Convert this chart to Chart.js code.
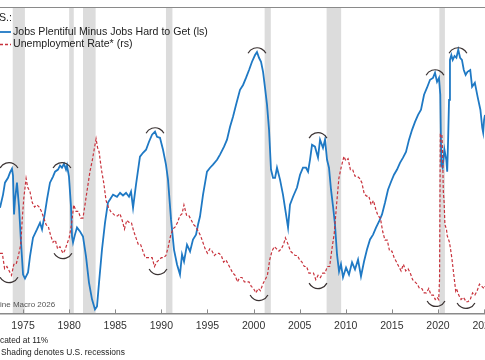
<!DOCTYPE html>
<html>
<head>
<meta charset="utf-8">
<script src="https://cdn.jsdelivr.net/npm/chart.js@4.4.1/dist/chart.umd.min.js"></script>
<style>
  html, body { margin: 0; padding: 0; background: #fff; overflow: hidden; }
  #wrap { position: relative; width: 560px; height: 360px; }
</style>
</head>
<body>
<div id="wrap"><canvas id="chart" width="560" height="360"></canvas></div>
<script>
// Conference Board labour differential (left scale)
var jobsYears = [
  1972.50, 1972.83, 1973.04, 1973.37, 1973.58, 1973.80, 1973.91, 1974.02, 1974.13, 1974.34,
  1974.56, 1974.78, 1975.00, 1975.21, 1975.54, 1975.75, 1976.08, 1976.51, 1976.84, 1977.06,
  1977.38, 1977.60, 1977.92, 1978.25, 1978.47, 1978.79, 1979.01, 1979.22, 1979.44, 1979.66,
  1979.77, 1979.98, 1980.20, 1980.31, 1980.42, 1980.63, 1980.85, 1981.18, 1981.50, 1981.83,
  1982.15, 1982.48, 1982.80, 1983.02, 1983.24, 1983.56, 1983.89, 1984.21, 1984.43, 1984.76,
  1985.19, 1985.52, 1985.84, 1986.17, 1986.49, 1986.71, 1986.93, 1987.25, 1987.68, 1988.01,
  1988.34, 1988.66, 1988.99, 1989.31, 1989.53, 1989.85, 1990.18, 1990.50, 1990.72, 1991.05,
  1991.37, 1991.70, 1992.02, 1992.24, 1992.46, 1992.78, 1993.11, 1993.43, 1993.76, 1993.98,
  1994.19, 1994.52, 1994.95, 1995.28, 1995.60, 1996.04, 1996.36, 1996.80, 1997.12, 1997.45,
  1997.77, 1998.10, 1998.53, 1998.86, 1999.18, 1999.51, 1999.83, 2000.16, 2000.37, 2000.59,
  2000.81, 2001.03, 2001.24, 2001.46, 2001.68, 2001.89, 2002.11, 2002.33, 2002.54, 2002.87,
  2003.19, 2003.52, 2003.74, 2003.95, 2004.28, 2004.71, 2005.04, 2005.36, 2005.69, 2005.91,
  2006.12, 2006.34, 2006.66, 2006.99, 2007.21, 2007.53, 2007.75, 2007.97, 2008.18, 2008.40,
  2008.62, 2008.83, 2009.05, 2009.27, 2009.48, 2009.70, 2010.03, 2010.35, 2010.68, 2011.00,
  2011.33, 2011.65, 2011.98, 2012.30, 2012.63, 2012.96, 2013.28, 2013.61, 2013.93, 2014.26,
  2014.58, 2014.91, 2015.23, 2015.56, 2015.88, 2016.21, 2016.53, 2016.86, 2017.19, 2017.51,
  2017.84, 2018.16, 2018.49, 2018.81, 2019.14, 2019.46, 2019.68, 2019.90, 2020.11, 2020.25,
  2020.36, 2020.50, 2020.70, 2020.90, 2021.00, 2021.10, 2021.20, 2021.30, 2021.45, 2021.60,
  2021.80, 2022.00, 2022.20, 2022.40, 2022.60, 2022.80, 2023.00, 2023.20, 2023.50, 2023.70,
  2024.00, 2024.30, 2024.60, 2024.80, 2024.90, 2025.00, 2025.10
];
var jobsValues = [
  -15.4, -11.1, -7.2, -5.6, -3.9, -2.6, -4.9, -17.6, -12.7, -7.2,
  -15.0, -26.8, -37.3, -38.6, -36.6, -31.4, -25.2, -22.5, -20.3, -22.5,
  -17.0, -12.7, -7.2, -5.2, -3.6, -2.9, -1.6, -2.3, -1.0, -2.9,
  -1.6, -5.2, -15.0, -24.8, -26.8, -24.2, -21.9, -23.2, -24.8, -31.4,
  -39.9, -45.4, -48.7, -47.7, -39.9, -29.1, -20.3, -13.7, -12.7, -11.1,
  -11.8, -10.5, -11.4, -10.5, -11.8, -10.1, -15.4, -7.8, 1.3, 2.6,
  3.6, 6.2, 8.5, 9.5, 7.8, 7.5, 3.6, -1.3, -6.2, -19.3,
  -29.1, -34.0, -37.3, -30.7, -33.0, -27.5, -29.7, -25.8, -24.2, -20.9,
  -18.3, -11.1, -3.6, -2.3, -1.3, 0.3, 2.0, 4.6, 6.9, 11.1,
  14.4, 18.3, 23.2, 24.8, 27.1, 29.7, 32.4, 34.6, 35.6, 33.7,
  32.4, 29.1, 23.9, 18.3, 10.1, -2.9, -5.6, -5.6, -2.3, -6.2,
  -11.1, -17.6, -21.9, -14.4, -11.8, -8.8, -4.6, -2.3, -2.3, -3.6,
  0.3, 5.2, 4.6, 1.0, 6.9, 4.2, 6.9, 0.3, -2.3, -9.5,
  -15.0, -20.9, -30.7, -36.3, -33.9, -38.2, -35.0, -37.3, -33.3, -35.6,
  -32.4, -37.9, -33.0, -29.1, -25.8, -24.2, -21.9, -19.9, -17.6, -13.7,
  -9.5, -6.9, -4.6, -2.9, -0.7, 1.0, 2.9, 6.9, 10.1, 12.7,
  15.0, 16.7, 21.6, 23.9, 26.5, 27.1, 28.8, 25.8, 27.1, 21.6,
  -1.3, -2.3, 3.6, 0.3, -3.6, 6.9, 19.9, 33.0, 34.6, 33.0,
  34.3, 33.7, 36.3, 33.7, 33.0, 29.7, 28.1, 29.1, 29.7, 24.2,
  25.5, 20.9, 16.7, 10.8, 9.2, 13.4, 15.0
];

// Unemployment rate, %, truncated at 11 (right scale)
var unempYears = [
  1972.50, 1972.75, 1973.00, 1973.25, 1973.50, 1973.75, 1974.00, 1974.25, 1974.50, 1974.75,
  1974.92, 1975.08, 1975.33, 1975.50, 1975.75, 1976.00, 1976.25, 1976.50, 1976.75, 1977.00,
  1977.25, 1977.50, 1977.75, 1978.00, 1978.25, 1978.50, 1978.75, 1979.00, 1979.33, 1979.50,
  1979.75, 1980.00, 1980.25, 1980.50, 1980.75, 1981.00, 1981.25, 1981.50, 1981.75, 1982.00,
  1982.25, 1982.50, 1982.75, 1982.92, 1983.08, 1983.25, 1983.50, 1983.75, 1984.00, 1984.25,
  1984.50, 1984.75, 1985.00, 1985.25, 1985.50, 1985.75, 1986.00, 1986.25, 1986.50, 1986.75,
  1987.00, 1987.25, 1987.50, 1987.75, 1988.00, 1988.25, 1988.50, 1988.75, 1989.00, 1989.25,
  1989.50, 1989.75, 1990.00, 1990.25, 1990.50, 1990.75, 1991.00, 1991.25, 1991.50, 1991.75,
  1992.00, 1992.25, 1992.45, 1992.75, 1993.00, 1993.25, 1993.50, 1993.75, 1994.00, 1994.25,
  1994.50, 1994.75, 1995.00, 1995.25, 1995.50, 1995.75, 1996.00, 1996.25, 1996.50, 1996.75,
  1997.00, 1997.25, 1997.50, 1997.75, 1998.00, 1998.25, 1998.50, 1998.75, 1999.00, 1999.25,
  1999.50, 1999.75, 2000.00, 2000.25, 2000.50, 2000.75, 2001.00, 2001.25, 2001.50, 2001.75,
  2002.00, 2002.25, 2002.50, 2002.75, 2003.00, 2003.25, 2003.45, 2003.75, 2004.00, 2004.25,
  2004.50, 2004.75, 2005.00, 2005.25, 2005.50, 2005.75, 2006.00, 2006.25, 2006.50, 2006.75,
  2007.00, 2007.25, 2007.50, 2007.75, 2008.00, 2008.25, 2008.50, 2008.75, 2009.00, 2009.25,
  2009.50, 2009.80, 2010.00, 2010.25, 2010.50, 2010.75, 2011.00, 2011.25, 2011.50, 2011.75,
  2012.00, 2012.25, 2012.50, 2012.75, 2013.00, 2013.25, 2013.50, 2013.75, 2014.00, 2014.25,
  2014.50, 2014.75, 2015.00, 2015.25, 2015.50, 2015.75, 2016.00, 2016.25, 2016.50, 2016.75,
  2017.00, 2017.25, 2017.50, 2017.75, 2018.00, 2018.25, 2018.50, 2018.75, 2019.00, 2019.25,
  2019.50, 2019.70, 2019.92, 2020.08, 2020.17, 2020.25, 2020.33, 2020.42, 2020.50, 2020.58,
  2020.67, 2020.75, 2020.92, 2021.00, 2021.25, 2021.50, 2021.75, 2021.92, 2022.00, 2022.25,
  2022.50, 2022.75, 2022.92, 2023.00, 2023.25, 2023.50, 2023.75, 2024.00, 2024.25, 2024.50,
  2024.75, 2025.00, 2025.10
];
var unempValues = [
  5.6, 5.6, 4.9, 5.0, 4.8, 4.6, 5.1, 5.1, 5.5, 6.0,
  7.2, 8.1, 9.0, 8.6, 8.4, 7.9, 7.7, 7.8, 7.7, 7.5,
  7.2, 6.9, 6.8, 6.4, 6.1, 6.2, 5.8, 5.9, 5.6, 5.7,
  6.0, 6.3, 6.9, 7.8, 7.5, 7.5, 7.2, 7.2, 7.9, 8.6,
  9.3, 9.8, 10.4, 10.8, 10.4, 10.2, 9.4, 8.8, 8.0, 7.7,
  7.5, 7.4, 7.3, 7.3, 7.4, 7.1, 6.7, 7.1, 7.0, 7.0,
  6.6, 6.3, 6.0, 6.0, 5.7, 5.4, 5.4, 5.4, 5.4, 5.0,
  5.2, 5.3, 5.4, 5.4, 5.5, 5.9, 6.4, 6.7, 6.8, 7.0,
  7.3, 7.4, 7.8, 7.3, 7.3, 7.1, 6.9, 6.8, 6.6, 6.4,
  6.1, 5.8, 5.6, 5.8, 5.7, 5.5, 5.6, 5.6, 5.5, 5.2,
  5.3, 5.1, 4.9, 4.7, 4.6, 4.3, 4.5, 4.5, 4.3, 4.3,
  4.3, 4.1, 4.0, 3.8, 4.0, 3.9, 4.2, 4.4, 4.6, 5.3,
  5.7, 5.9, 5.8, 5.7, 5.8, 6.0, 6.3, 6.0, 5.7, 5.6,
  5.5, 5.5, 5.3, 5.2, 5.0, 5.0, 4.7, 4.7, 4.7, 4.4,
  4.6, 4.5, 4.7, 4.7, 5.0, 5.0, 5.8, 6.5, 7.8, 9.0,
  9.5, 10.0, 9.8, 9.9, 9.4, 9.4, 9.1, 9.1, 9.0, 8.8,
  8.3, 8.2, 8.2, 7.8, 8.0, 7.6, 7.3, 7.2, 6.6, 6.2,
  6.2, 5.7, 5.7, 5.4, 5.2, 5.0, 4.8, 5.1, 4.8, 4.9,
  4.7, 4.4, 4.3, 4.2, 4.0, 4.0, 3.8, 3.8, 4.0, 3.7,
  3.7, 3.5, 3.6, 3.5, 4.4, 11.0, 11.0, 11.0, 10.2, 8.4,
  7.9, 6.9, 6.7, 6.4, 6.1, 5.4, 4.5, 3.9, 4.0, 3.7,
  3.5, 3.6, 3.5, 3.4, 3.4, 3.5, 3.8, 3.7, 3.9, 4.2,
  4.1, 4.0, 4.1
];

var tickYears = [1975, 1980, 1985, 1990, 1995, 2000, 2005, 2010, 2015, 2020, 2025];

var recessionStarts = [1973.88, 1980.00, 1981.50, 1990.50, 2001.20, 2007.92, 2020.15];
var recessionEnds   = [1975.20, 1980.50, 1982.87, 1991.20, 2001.87, 2009.50, 2020.75];

// arcs marking cycle peaks (blue) and troughs (red)
var peakArcYears   = [1973.48, 1979.22, 1989.31, 2000.37, 2006.99, 2019.68, 2022.17];
var peakArcValues  = [-3.9, -3.9, 7.5, 33.7, 5.9, 26.5, 33.7];
var troughArcYears  = [1973.48, 1979.33, 1989.64, 2000.59, 2006.99, 2019.79, 2023.04];
var troughArcValues = [4.72, 5.81, 5.09, 3.91, 4.45, 3.64, 3.55];

var BLUE = '#1f79c4';
var RED = '#c8323c';
var FONT = "'Liberation Sans', Arial, sans-serif";

function toPoints(xs, ys) {
    return xs.map(function (x, i) { return { x: x, y: ys[i] }; });
}

var decorPlugin = {
    id: 'decor',
    beforeDraw: function (chart) {
        var ctx = chart.ctx, area = chart.chartArea, xs = chart.scales.x;
        ctx.save();
        ctx.fillStyle = '#dcdcdc';
        recessionStarts.forEach(function (s, i) {
            var x0 = xs.getPixelForValue(s);
            var x1 = xs.getPixelForValue(recessionEnds[i]);
            ctx.fillRect(x0, area.top, x1 - x0, area.bottom - area.top);
        });
        ctx.strokeStyle = '#8a8a8a';
        ctx.lineWidth = 1;
        ctx.beginPath();
        ctx.moveTo(0, area.top - 0.5);
        ctx.lineTo(chart.width, area.top - 0.5);
        ctx.stroke();
        ctx.restore();
    },
    afterDatasetsDraw: function (chart) {
        var ctx = chart.ctx, xs = chart.scales.x, yl = chart.scales.y, yr = chart.scales.y1;
        var r = 10, half = 1.1;
        ctx.save();
        ctx.strokeStyle = '#3b3333';
        ctx.lineWidth = 1.2;
        peakArcYears.forEach(function (yr0, i) {
            ctx.beginPath();
            ctx.arc(xs.getPixelForValue(yr0), yl.getPixelForValue(peakArcValues[i]), r, -Math.PI / 2 - half, -Math.PI / 2 + half);
            ctx.stroke();
        });
        troughArcYears.forEach(function (yr0, i) {
            ctx.beginPath();
            ctx.arc(xs.getPixelForValue(yr0), yr.getPixelForValue(troughArcValues[i]), r, Math.PI / 2 - half, Math.PI / 2 + half);
            ctx.stroke();
        });
        ctx.restore();
    },
    afterDraw: function (chart) {
        var ctx = chart.ctx, area = chart.chartArea, xs = chart.scales.x;
        ctx.save();
        // inner tick marks on the date axis
        ctx.strokeStyle = '#8a8a8a';
        ctx.lineWidth = 1;
        tickYears.forEach(function (t) {
            var x = Math.round(xs.getPixelForValue(t)) + 0.5;
            ctx.beginPath();
            ctx.moveTo(x, area.bottom);
            ctx.lineTo(x, area.bottom - 4);
            ctx.stroke();
        });
        // legend
        var ds = chart.data.datasets;
        ctx.textBaseline = 'middle';
        ctx.textAlign = 'left';
        ctx.fillStyle = '#222';
        ctx.font = '10.6px ' + FONT;
        ctx.fillText('S.:', -1, 18);
        ctx.lineWidth = 1.8;
        ctx.strokeStyle = BLUE;
        ctx.beginPath(); ctx.moveTo(0, 32); ctx.lineTo(11, 32); ctx.stroke();
        ctx.fillText(ds[0].label, 13, 32);
        ctx.lineWidth = 1.3;
        ctx.strokeStyle = RED;
        ctx.setLineDash([3, 2]);
        ctx.beginPath(); ctx.moveTo(0, 44.5); ctx.lineTo(11, 44.5); ctx.stroke();
        ctx.setLineDash([]);
        ctx.fillText(ds[1].label, 13, 44.5);
        // source and notes
        ctx.fillStyle = '#555';
        ctx.font = '8px ' + FONT;
        ctx.fillText('ine Macro 2026', 0, 305);
        ctx.fillStyle = '#222';
        ctx.font = '8.4px ' + FONT;
        ctx.fillText('cated at 11%', 0, 341);
        ctx.fillText('Shading denotes U.S. recessions', 1, 352.5);
        ctx.restore();
    }
};

new Chart(document.getElementById('chart'), {
    type: 'line',
    data: {
        datasets: [
            {
                label: 'Jobs Plentiful Minus Jobs Hard to Get (ls)',
                data: toPoints(jobsYears, jobsValues),
                borderColor: BLUE,
                borderWidth: 1.8,
                pointRadius: 0,
                tension: 0,
                yAxisID: 'y',
                order: 2
            },
            {
                label: 'Unemployment Rate* (rs)',
                data: toPoints(unempYears, unempValues),
                borderColor: RED,
                borderWidth: 1.2,
                borderDash: [3, 2],
                pointRadius: 0,
                tension: 0,
                yAxisID: 'y1',
                order: 1
            }
        ]
    },
    options: {
        responsive: false,
        animation: false,
        events: [],
        layout: { padding: { left: 0, right: 75, top: 8, bottom: 22 } },
        scales: {
            x: {
                type: 'linear',
                min: 1972.5,
                max: 2025.1,
                afterBuildTicks: function (scale) {
                    scale.ticks = tickYears.map(function (v) { return { value: v }; });
                },
                ticks: {
                    autoSkip: false,
                    maxRotation: 0,
                    padding: 6,
                    color: '#333',
                    font: { family: FONT, size: 10.5 },
                    callback: function (v) { return String(v); }
                },
                grid: { display: false, drawTicks: false },
                border: { display: true, color: '#8a8a8a', width: 1.5 }
            },
            y: { display: false, min: -50, max: 50 },
            y1: { display: false, min: 2.87, max: 16.74 }
        },
        plugins: {
            legend: { display: false },
            tooltip: { enabled: false }
        }
    },
    plugins: [decorPlugin]
});
</script>
</body>
</html>
